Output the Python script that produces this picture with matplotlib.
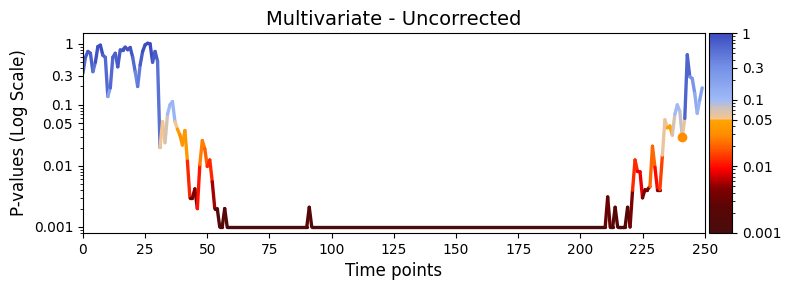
import numpy as np
import matplotlib
matplotlib.use("Agg")
import matplotlib.pyplot as plt
from matplotlib.collections import LineCollection
from matplotlib.colors import LinearSegmentedColormap, LogNorm
from matplotlib.cm import ScalarMappable

# time points and p-values
t_start = list(range(0, 59))
p_start = [0.33, 0.6, 0.75, 0.7, 0.35, 0.5, 0.9, 0.95, 0.65, 0.6,
           0.137, 0.19, 0.6, 0.7, 0.42, 0.8, 0.8, 0.88, 0.8, 0.87,
           0.6, 0.35, 0.2, 0.45, 0.75, 0.96, 1.02, 1.0, 0.5, 0.75,
           0.52, 0.02, 0.053, 0.024, 0.07, 0.1, 0.113, 0.053, 0.04, 0.032,
           0.022, 0.038, 0.012, 0.003, 0.003, 0.0042, 0.002, 0.0105, 0.026, 0.019,
           0.0098, 0.0125, 0.0055, 0.002, 0.002, 0.001, 0.001, 0.002, 0.001]
t_mid = [90, 91, 92, 210]
p_mid = [0.001, 0.0021, 0.001, 0.001]
t_end = list(range(211, 250))
p_end = [0.0031, 0.001, 0.001, 0.0021, 0.001, 0.001, 0.001, 0.001, 0.0021, 0.001,
         0.004, 0.0125, 0.0081, 0.008, 0.003, 0.0041, 0.0041, 0.0046, 0.021, 0.0095,
         0.0041, 0.0041, 0.015, 0.057, 0.042, 0.045, 0.032, 0.07, 0.1, 0.078,
         0.03, 0.06, 0.66, 0.29, 0.27, 0.155, 0.073, 0.12, 0.19]

marker_t = 241
marker_p = 0.03

time = np.array(t_start + t_mid + t_end, dtype=float)
pvals = np.array(p_start + p_mid + p_end)

# custom colormap: dark red -> red -> orange below 0.05, pale -> blue above
stops = [(0.0, "#4a0c0c"), (0.13, "#5a0505"), (0.22, "#800000"),
         (0.27, "#c00000"), (0.318, "#ff0000"), (0.41, "#ff5000"),
         (0.49, "#ff8c00"), (0.565, "#ffa500"), (0.572, "#f5c592"),
         (0.62, "#d3c2b6"), (0.667, "#9fbaf7"), (0.83, "#7490e6"),
         (1.0, "#3b4cc0")]
cmap = LinearSegmentedColormap.from_list("pcmap", stops)
norm = LogNorm(vmin=0.001, vmax=1)

fig = plt.figure(figsize=(7.9, 2.9), dpi=100)
ax = fig.add_axes([0.105, 0.197, 0.787, 0.689])
cax = fig.add_axes([0.8975, 0.197, 0.029, 0.689])

pts = np.column_stack([time, pvals]).reshape(-1, 1, 2)
segs = np.concatenate([pts[:-1], pts[1:]], axis=1)
seg_vals = np.maximum(pvals[:-1], pvals[1:])
lc = LineCollection(segs, cmap=cmap, norm=norm, linewidth=2.4,
                    capstyle="round", joinstyle="round")
lc.set_array(seg_vals)
ax.add_collection(lc)
ax.plot(marker_t, marker_p, "o", color="darkorange", markersize=6)

ax.set_yscale("log")
ax.set_xlim(0, 250)
ax.set_ylim(0.0008, 1.5)
ticks = [0.001, 0.01, 0.05, 0.1, 0.3, 1]
labels = ["0.001", "0.01", "0.05", "0.1", "0.3", "1"]
ax.set_yticks(ticks)
ax.set_yticklabels(labels)
ax.set_xticks(range(0, 251, 25))
ax.set_title("Multivariate - Uncorrected", fontsize=14)
ax.set_xlabel("Time points", fontsize=12)
ax.set_ylabel("P-values (Log Scale)", fontsize=12)

cb = fig.colorbar(ScalarMappable(norm=norm, cmap=cmap), cax=cax, ticks=ticks)
cb.ax.set_yticklabels(labels)

fig.savefig("out.png", dpi=100)
